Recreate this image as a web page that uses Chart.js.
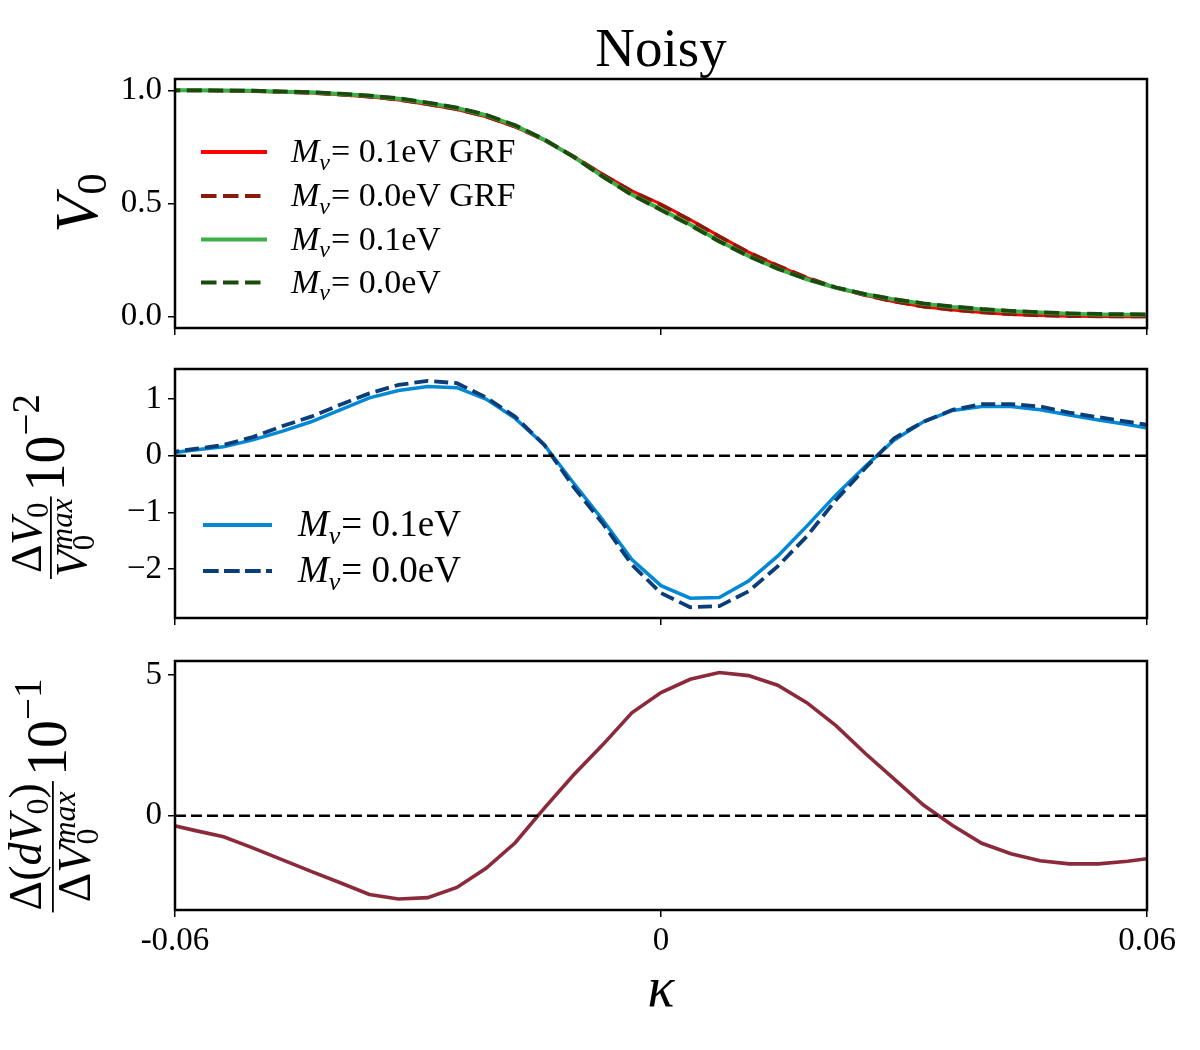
<!DOCTYPE html>
<html>
<head>
<meta charset="utf-8">
<script src="https://cdn.jsdelivr.net/npm/chart.js@4.4.1/dist/chart.umd.min.js"></script>
<style>
  html, body { margin: 0; padding: 0; background: #fff; }
  #wrap { position: relative; width: 1200px; height: 1050px; }
  #wrap canvas { position: absolute; left: 0; top: 0; }
</style>
</head>
<body>
<div id="wrap">
  <canvas id="c1" width="1200" height="1050"></canvas>
  <canvas id="c2" width="1200" height="1050"></canvas>
  <canvas id="c3" width="1200" height="1050"></canvas>
</div>
<script>
// kappa bins (x values shared by all panels)
const kappa = [-0.0612, -0.0576, -0.054, -0.0504, -0.0468, -0.0432, -0.0396, -0.036, -0.0324, -0.0288,
  -0.0252, -0.0216, -0.018, -0.0144, -0.0108, -0.0072, -0.0036, 0, 0.0036, 0.0072,
  0.0108, 0.0144, 0.018, 0.0216, 0.0252, 0.0288, 0.0324, 0.036, 0.0396, 0.0432,
  0.0468, 0.0504, 0.054, 0.0576, 0.0612];

// top panel: V0
const v0Grf01 = [1.000, 0.999, 0.998, 0.996, 0.992, 0.988, 0.980, 0.971, 0.957, 0.937,
  0.915, 0.883, 0.838, 0.779, 0.708, 0.630, 0.556, 0.497, 0.429, 0.356,
  0.285, 0.226, 0.172, 0.128, 0.094, 0.066, 0.044, 0.029, 0.018, 0.010,
  0.005, 0.002, 0.001, 0.000, 0.000];
const v0Grf00 = [1.000, 1.000, 0.999, 0.997, 0.993, 0.989, 0.981, 0.972, 0.959, 0.939,
  0.917, 0.885, 0.840, 0.780, 0.708, 0.628, 0.553, 0.494, 0.426, 0.354,
  0.284, 0.226, 0.173, 0.129, 0.095, 0.067, 0.045, 0.030, 0.019, 0.011,
  0.006, 0.003, 0.002, 0.001, 0.001];
const v0Nu01 = [1.000, 1.000, 0.999, 0.998, 0.994, 0.991, 0.984, 0.976, 0.963, 0.944,
  0.922, 0.890, 0.844, 0.782, 0.706, 0.620, 0.540, 0.474, 0.407, 0.334,
  0.268, 0.212, 0.165, 0.128, 0.099, 0.076, 0.057, 0.043, 0.032, 0.024,
  0.018, 0.013, 0.010, 0.009, 0.008];
const v0Nu00 = [1.000, 1.000, 0.999, 0.998, 0.995, 0.992, 0.985, 0.977, 0.965, 0.946,
  0.924, 0.892, 0.846, 0.783, 0.706, 0.619, 0.538, 0.471, 0.404, 0.332,
  0.267, 0.212, 0.166, 0.129, 0.100, 0.077, 0.059, 0.045, 0.034, 0.026,
  0.020, 0.015, 0.012, 0.011, 0.010];

// middle panel: relative difference (x 10^-2)
const dV0Nu01 = [0.04, 0.10, 0.16, 0.28, 0.43, 0.60, 0.81, 1.02, 1.15, 1.22,
  1.20, 1.00, 0.66, 0.19, -0.48, -1.13, -1.83, -2.29, -2.51, -2.50,
  -2.21, -1.77, -1.24, -0.69, -0.19, 0.28, 0.60, 0.80, 0.87, 0.87,
  0.81, 0.72, 0.63, 0.55, 0.46];
const dV0Nu00 = [0.05, 0.12, 0.19, 0.33, 0.52, 0.69, 0.90, 1.10, 1.25, 1.32,
  1.28, 1.03, 0.69, 0.19, -0.55, -1.19, -1.92, -2.42, -2.67, -2.65,
  -2.39, -1.95, -1.42, -0.78, -0.22, 0.31, 0.60, 0.81, 0.91, 0.91,
  0.87, 0.76, 0.68, 0.60, 0.52];

// bottom panel: difference of derivative (x 10^-1)
const ddV0 = [-0.28, -0.52, -0.75, -1.14, -1.56, -1.98, -2.38, -2.80, -2.96, -2.91,
  -2.55, -1.87, -0.96, 0.27, 1.45, 2.52, 3.66, 4.38, 4.85, 5.09,
  4.98, 4.64, 4.02, 3.20, 2.22, 1.30, 0.38, -0.35, -0.98, -1.35,
  -1.60, -1.71, -1.71, -1.62, -1.48];

const zeroX = [-0.06, 0.06];
const zeroY = [0, 0];

const xTickVals = [-0.06, 0, 0.06];
const xTickLabels = ['-0.06', '0', '0.06'];
const y1Ticks = [0, 0.5, 1];
const y1Labels = ['0.0', '0.5', '1.0'];
const y2Ticks = [-2, -1, 0, 1];
const y2Labels = ['\u22122', '\u22121', '0', '1'];
const y3Ticks = [0, 5];
const y3Labels = ['0', '5'];

const FAMILY = '"Liberation Serif", "DejaVu Serif", serif';
const rm = s => s + 'px ' + FAMILY;
const it = s => 'italic ' + s + 'px ' + FAMILY;

const AREA_LEFT = 175;
const AREA_RIGHT = 1147;

const pts = (xs, ys) => xs.map((x, i) => ({ x: x, y: ys[i] }));

function line(ys, color, dash, width, order) {
  return {
    data: pts(kappa, ys),
    borderColor: color,
    borderWidth: width,
    borderDash: dash || [],
    pointRadius: 0,
    tension: 0,
    fill: false,
    clip: 0,
    order: order
  };
}

function zeroLine() {
  return {
    data: pts(zeroX, zeroY),
    borderColor: '#000',
    borderWidth: 2.6,
    borderDash: [11, 5],
    pointRadius: 0,
    fill: false,
    clip: 0,
    order: 0
  };
}

// draw a run of text pieces along one baseline
function drawRuns(ctx, x, y, runs, measureOnly) {
  let start = x;
  runs.forEach(r => {
    ctx.font = r.f;
    const w = ctx.measureText(r.t).width;
    if (!measureOnly) ctx.fillText(r.t, x, y + (r.dy || 0));
    if (r.adv !== false) x += w + (r.dx || 0);
  });
  return x - start;
}

function muLabel(rest, size) {
  return [
    { t: 'M', f: it(size) },
    { t: '\u03bd', f: it(Math.round(size * 0.7)), dy: size * 0.22, dx: 1 },
    { t: '= ' + rest, f: rm(size) }
  ];
}

function drawLegend(ctx, items, x0, x1, tx, size) {
  items.forEach(item => {
    ctx.save();
    ctx.strokeStyle = item.color;
    ctx.lineWidth = item.width;
    ctx.setLineDash(item.dash || []);
    ctx.beginPath();
    ctx.moveTo(x0, item.y);
    ctx.lineTo(x1, item.y);
    ctx.stroke();
    ctx.restore();
    ctx.fillStyle = '#000';
    ctx.textBaseline = 'alphabetic';
    drawRuns(ctx, tx, item.y + size * 0.3, muLabel(item.label, size));
  });
}

// rotated y label: fraction followed by 10^p
function drawFracLabel(ctx, B, cy, num, den, expo, gap) {
  ctx.save();
  ctx.translate(B, cy);
  ctx.rotate(-Math.PI / 2);
  ctx.fillStyle = '#000';
  ctx.textBaseline = 'alphabetic';
  const numW = drawRuns(ctx, 0, 0, num, true);
  const denW = drawRuns(ctx, 0, 0, den, true);
  const fracW = Math.max(numW, denW) + 6;
  ctx.font = rm(56);
  const baseW = ctx.measureText('10').width;
  const supRuns = [{ t: expo, f: rm(39) }];
  const supW = drawRuns(ctx, 0, 0, supRuns, true);
  const total = fracW + 4 + baseW + supW;
  const x0 = -total / 2;
  drawRuns(ctx, x0 + (fracW - numW) / 2, -gap[0], num);
  drawRuns(ctx, x0 + (fracW - denW) / 2, gap[1], den);
  ctx.fillRect(x0 + 1, -14, fracW - 2, 1.8);
  ctx.font = rm(56);
  ctx.fillText('10', x0 + fracW + 4, 0);
  drawRuns(ctx, x0 + fracW + 4 + baseW, -25, supRuns);
  ctx.restore();
}

function framePlugin(extra) {
  return {
    id: 'frame',
    afterDraw(chart) {
      const ctx = chart.ctx;
      const a = chart.chartArea;
      ctx.save();
      ctx.strokeStyle = '#000';
      ctx.lineWidth = 2.5;
      ctx.setLineDash([]);
      ctx.strokeRect(a.left, a.top, a.right - a.left, a.bottom - a.top);
      ctx.restore();
      ctx.save();
      extra(ctx, chart);
      ctx.restore();
    }
  };
}

function panelOptions(p) {
  const tickFont = { family: FAMILY, size: 33 };
  const gridOpts = { drawOnChartArea: false, drawTicks: true, tickLength: 7, color: '#000', lineWidth: 1.5 };
  return {
    responsive: false,
    animation: false,
    events: [],
    layout: { padding: { left: 0, right: 1200 - AREA_RIGHT, top: p.top, bottom: 1050 - p.bottom - p.xh } },
    plugins: { legend: { display: false }, tooltip: { enabled: false } },
    scales: {
      x: {
        type: 'linear', min: -0.06, max: 0.06,
        afterBuildTicks: s => { s.ticks = xTickVals.map(v => ({ value: v })); },
        afterFit: s => { s.height = p.xh; },
        ticks: { display: p.showX, color: '#000', font: tickFont, padding: 5, maxRotation: 0, autoSkip: false,
          callback: (v, i) => xTickLabels[i] },
        grid: gridOpts,
        border: { display: false }
      },
      y: {
        type: 'linear', min: p.ymin, max: p.ymax,
        afterBuildTicks: s => { s.ticks = p.yTicks.map(v => ({ value: v })); },
        afterFit: s => { s.width = AREA_LEFT; },
        ticks: { color: '#000', font: tickFont, padding: 6, autoSkip: false,
          callback: (v, i) => p.yLabels[i] },
        grid: gridOpts,
        border: { display: false }
      }
    }
  };
}

// ---- panel 1 ----
const red = '#ff0000', darkRed = '#8c1a0c', green = '#3daf48', darkGreen = '#1b4a0e';
new Chart(document.getElementById('c1'), {
  type: 'line',
  data: {
    datasets: [
      line(v0Nu00, darkGreen, [15, 6.5], 3.8, 1),
      line(v0Nu01, green, [], 4, 2),
      line(v0Grf00, darkRed, [15, 6.5], 3.8, 3),
      line(v0Grf01, red, [], 3, 4)
    ]
  },
  options: panelOptions({ top: 79, bottom: 328, xh: 10, showX: false, ymin: -0.05, ymax: 1.05,
    yTicks: y1Ticks, yLabels: y1Labels }),
  plugins: [framePlugin(ctx => {
    ctx.fillStyle = '#000';
    ctx.textAlign = 'center';
    ctx.textBaseline = 'alphabetic';
    ctx.font = rm(55);
    ctx.fillText('Noisy', 661, 66);
    ctx.textAlign = 'left';
    drawLegend(ctx, [
      { color: red, width: 3.8, label: '0.1eV GRF', y: 152 },
      { color: darkRed, width: 3.8, dash: [15.5, 6.5], label: '0.0eV GRF', y: 196 },
      { color: green, width: 3.8, label: '0.1eV', y: 239.5 },
      { color: darkGreen, width: 3.8, dash: [15.5, 6.5], label: '0.0eV', y: 282.5 }
    ], 201, 267, 291, 34);
    // y label V_0
    ctx.save();
    ctx.translate(97, 203);
    ctx.rotate(-Math.PI / 2);
    const runs = [{ t: 'V', f: it(62) }, { t: '0', f: rm(43), dy: 9 }];
    const w = drawRuns(ctx, 0, 0, runs, true);
    drawRuns(ctx, -w / 2, 0, runs);
    ctx.restore();
  })]
});

// ---- panel 2 ----
const blue = '#0388d6', navy = '#0b3d78';
new Chart(document.getElementById('c2'), {
  type: 'line',
  data: {
    datasets: [
      line(dV0Nu00, navy, [14, 6], 3.8, 1),
      line(dV0Nu01, blue, [], 3.5, 2),
      zeroLine()
    ]
  },
  options: panelOptions({ top: 369, bottom: 618, xh: 10, showX: false, ymin: -2.86, ymax: 1.53,
    yTicks: y2Ticks, yLabels: y2Labels }),
  plugins: [framePlugin(ctx => {
    drawLegend(ctx, [
      { color: blue, width: 3.8, label: '0.1eV', y: 525 },
      { color: navy, width: 3.8, dash: [15.7, 5.3], label: '0.0eV', y: 571 }
    ], 203, 272, 298, 37);
    drawFracLabel(ctx, 64, 487,
      [{ t: '\u0394', f: rm(44) }, { t: 'V', f: it(44) }, { t: '0', f: rm(31), dy: 7 }],
      [{ t: 'V', f: it(44) }, { t: '0', f: rm(31), dy: 8, adv: false }, { t: 'max', f: it(31), dy: -14 }],
      '\u22122', [23, 22]);
  })]
});

// ---- panel 3 ----
const maroon = '#8b2a3b';
new Chart(document.getElementById('c3'), {
  type: 'line',
  data: {
    datasets: [
      line(ddV0, maroon, [], 3.6, 1),
      zeroLine()
    ]
  },
  options: panelOptions({ top: 661, bottom: 910, xh: 60, showX: true, ymin: -3.35, ymax: 5.5,
    yTicks: y3Ticks, yLabels: y3Labels }),
  plugins: [framePlugin(ctx => {
    ctx.fillStyle = '#000';
    ctx.textAlign = 'center';
    ctx.textBaseline = 'alphabetic';
    ctx.font = it(56);
    ctx.fillText('\u03ba', 661, 1006);
    ctx.textAlign = 'left';
    drawFracLabel(ctx, 66, 796,
      [{ t: '\u0394', f: rm(46) }, { t: '(', f: rm(46) }, { t: 'd', f: it(46) }, { t: 'V', f: it(46) },
       { t: '0', f: rm(32), dy: 7 }, { t: ')', f: rm(46) }],
      [{ t: '\u0394', f: rm(46) }, { t: 'V', f: it(46) }, { t: '0', f: rm(32), dy: 8, adv: false },
       { t: 'max', f: it(32), dy: -15 }],
      '\u22121', [25, 24]);
  })]
});
</script>
</body>
</html>
